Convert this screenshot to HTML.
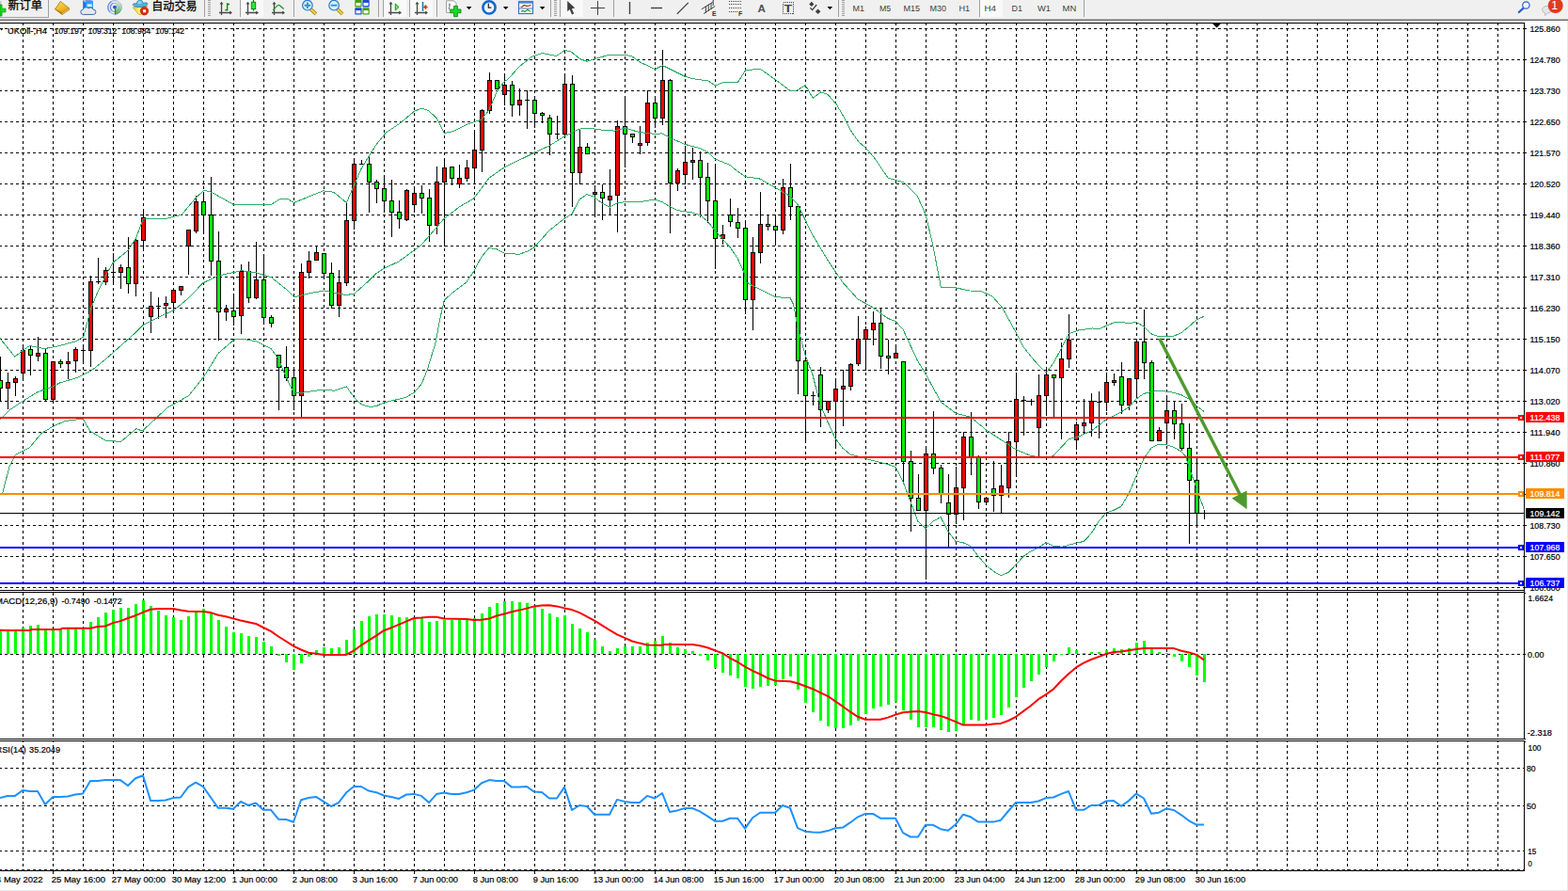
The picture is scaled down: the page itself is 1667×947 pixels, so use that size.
<!DOCTYPE html><html><head><meta charset="utf-8"><title>UKOil H4</title>
<style>html,body{margin:0;padding:0;background:#fff;overflow:hidden}body{width:1667px;height:947px}svg{display:block}text{font-family:"Liberation Sans",sans-serif}</style></head><body>
<svg width="1667" height="947" viewBox="0 0 1667 947">
<rect width="1667" height="947" fill="#fff"/>
<g shape-rendering="crispEdges" stroke="#000" stroke-width="1" fill="none">
<g stroke-dasharray="3 3">
<path d="M24.5 24V627M24.5 630V785"/><path d="M24.5 788V925" stroke-dashoffset="2"/>
<path d="M56.5 24V627M56.5 630V785"/><path d="M56.5 788V925" stroke-dashoffset="2"/>
<path d="M88.5 24V627M88.5 630V785"/><path d="M88.5 788V925" stroke-dashoffset="2"/>
<path d="M120.5 24V627M120.5 630V785"/><path d="M120.5 788V925" stroke-dashoffset="2"/>
<path d="M152.5 24V627M152.5 630V785"/><path d="M152.5 788V925" stroke-dashoffset="2"/>
<path d="M184.5 24V627M184.5 630V785"/><path d="M184.5 788V925" stroke-dashoffset="2"/>
<path d="M216.5 24V627M216.5 630V785"/><path d="M216.5 788V925" stroke-dashoffset="2"/>
<path d="M248.5 24V627M248.5 630V785"/><path d="M248.5 788V925" stroke-dashoffset="2"/>
<path d="M280.5 24V627M280.5 630V785"/><path d="M280.5 788V925" stroke-dashoffset="2"/>
<path d="M312.5 24V627M312.5 630V785"/><path d="M312.5 788V925" stroke-dashoffset="2"/>
<path d="M344.5 24V627M344.5 630V785"/><path d="M344.5 788V925" stroke-dashoffset="2"/>
<path d="M376.5 24V627M376.5 630V785"/><path d="M376.5 788V925" stroke-dashoffset="2"/>
<path d="M408.5 24V627M408.5 630V785"/><path d="M408.5 788V925" stroke-dashoffset="2"/>
<path d="M440.5 24V627M440.5 630V785"/><path d="M440.5 788V925" stroke-dashoffset="2"/>
<path d="M472.5 24V627M472.5 630V785"/><path d="M472.5 788V925" stroke-dashoffset="2"/>
<path d="M504.5 24V627M504.5 630V785"/><path d="M504.5 788V925" stroke-dashoffset="2"/>
<path d="M536.5 24V627M536.5 630V785"/><path d="M536.5 788V925" stroke-dashoffset="2"/>
<path d="M568.5 24V627M568.5 630V785"/><path d="M568.5 788V925" stroke-dashoffset="2"/>
<path d="M600.5 24V627M600.5 630V785"/><path d="M600.5 788V925" stroke-dashoffset="2"/>
<path d="M632.5 24V627M632.5 630V785"/><path d="M632.5 788V925" stroke-dashoffset="2"/>
<path d="M664.5 24V627M664.5 630V785"/><path d="M664.5 788V925" stroke-dashoffset="2"/>
<path d="M696.5 24V627M696.5 630V785"/><path d="M696.5 788V925" stroke-dashoffset="2"/>
<path d="M728.5 24V627M728.5 630V785"/><path d="M728.5 788V925" stroke-dashoffset="2"/>
<path d="M760.5 24V627M760.5 630V785"/><path d="M760.5 788V925" stroke-dashoffset="2"/>
<path d="M792.5 24V627M792.5 630V785"/><path d="M792.5 788V925" stroke-dashoffset="2"/>
<path d="M824.5 24V627M824.5 630V785"/><path d="M824.5 788V925" stroke-dashoffset="2"/>
<path d="M856.5 24V627M856.5 630V785"/><path d="M856.5 788V925" stroke-dashoffset="2"/>
<path d="M888.5 24V627M888.5 630V785"/><path d="M888.5 788V925" stroke-dashoffset="2"/>
<path d="M920.5 24V627M920.5 630V785"/><path d="M920.5 788V925" stroke-dashoffset="2"/>
<path d="M952.5 24V627M952.5 630V785"/><path d="M952.5 788V925" stroke-dashoffset="2"/>
<path d="M984.5 24V627M984.5 630V785"/><path d="M984.5 788V925" stroke-dashoffset="2"/>
<path d="M1016.5 24V627M1016.5 630V785"/><path d="M1016.5 788V925" stroke-dashoffset="2"/>
<path d="M1048.5 24V627M1048.5 630V785"/><path d="M1048.5 788V925" stroke-dashoffset="2"/>
<path d="M1080.5 24V627M1080.5 630V785"/><path d="M1080.5 788V925" stroke-dashoffset="2"/>
<path d="M1112.5 24V627M1112.5 630V785"/><path d="M1112.5 788V925" stroke-dashoffset="2"/>
<path d="M1144.5 24V627M1144.5 630V785"/><path d="M1144.5 788V925" stroke-dashoffset="2"/>
<path d="M1176.5 24V627M1176.5 630V785"/><path d="M1176.5 788V925" stroke-dashoffset="2"/>
<path d="M1208.5 24V627M1208.5 630V785"/><path d="M1208.5 788V925" stroke-dashoffset="2"/>
<path d="M1240.5 24V627M1240.5 630V785"/><path d="M1240.5 788V925" stroke-dashoffset="2"/>
<path d="M1272.5 24V627M1272.5 630V785"/><path d="M1272.5 788V925" stroke-dashoffset="2"/>
<path d="M1304.5 24V627M1304.5 630V785"/><path d="M1304.5 788V925" stroke-dashoffset="2"/>
<path d="M1336.5 24V627M1336.5 630V785"/><path d="M1336.5 788V925" stroke-dashoffset="2"/>
<path d="M1368.5 24V627M1368.5 630V785"/><path d="M1368.5 788V925" stroke-dashoffset="2"/>
<path d="M1400.5 24V627M1400.5 630V785"/><path d="M1400.5 788V925" stroke-dashoffset="2"/>
<path d="M1432.5 24V627M1432.5 630V785"/><path d="M1432.5 788V925" stroke-dashoffset="2"/>
<path d="M1464.5 24V627M1464.5 630V785"/><path d="M1464.5 788V925" stroke-dashoffset="2"/>
<path d="M1496.5 24V627M1496.5 630V785"/><path d="M1496.5 788V925" stroke-dashoffset="2"/>
<path d="M1528.5 24V627M1528.5 630V785"/><path d="M1528.5 788V925" stroke-dashoffset="2"/>
<path d="M1560.5 24V627M1560.5 630V785"/><path d="M1560.5 788V925" stroke-dashoffset="2"/>
<path d="M1592.5 24V627M1592.5 630V785"/><path d="M1592.5 788V925" stroke-dashoffset="2"/>
<path d="M-1 30.5H1620"/>
<path d="M-1 63.5H1620"/>
<path d="M-1 96.5H1620"/>
<path d="M-1 129.5H1620"/>
<path d="M-1 162.5H1620"/>
<path d="M-1 195.5H1620"/>
<path d="M-1 228.5H1620"/>
<path d="M-1 261.5H1620"/>
<path d="M-1 294.5H1620"/>
<path d="M-1 327.5H1620"/>
<path d="M-1 360.5H1620"/>
<path d="M-1 393.5H1620"/>
<path d="M-1 426.5H1620"/>
<path d="M-1 459.5H1620"/>
<path d="M-1 492.5H1620"/>
<path d="M-1 525.5H1620"/>
<path d="M-1 558.5H1620"/>
<path d="M-1 591.5H1620"/>
<path d="M-1 624.5H1620"/>
<path d="M-1 695.5H1620"/>
<path d="M-1 816.5H1620"/>
<path d="M-1 856.5H1620"/>
<path d="M-1 904.5H1620"/>
<path d="M-1 924.5H1620"/>
</g>
<path d="M0 24.5H1621M0 627.5H1621M0 629.5H1621M0 785.5H1621M0 787.5H1621M0 925.5H1621M1620.5 24V786M1620.5 787V926"/>
<path d="M1621 30.5h2M1621 63.5h2M1621 96.5h2M1621 129.5h2M1621 162.5h2M1621 195.5h2M1621 228.5h2M1621 261.5h2M1621 294.5h2M1621 327.5h2M1621 360.5h2M1621 393.5h2M1621 426.5h2M1621 459.5h2M1621 492.5h2M1621 525.5h2M1621 558.5h2M1621 591.5h2M1621 624.5h2"/>
<path d="M1621 695.5h1M1621 785.5h1M1621 788.5h1M1621 630.5h1"/>
<path d="M56.5 926v3M120.5 926v3M184.5 926v3M248.5 926v3M312.5 926v3M376.5 926v3M440.5 926v3M504.5 926v3M568.5 926v3M632.5 926v3M696.5 926v3M760.5 926v3M824.5 926v3M888.5 926v3M952.5 926v3M1016.5 926v3M1080.5 926v3M1144.5 926v3M1208.5 926v3M1272.5 926v3"/>
</g>
<g shape-rendering="crispEdges">
<path d="M0.5 379V427M8.5 396V435M16.5 400V421M24.5 366V405M32.5 368V399M40.5 358V384M48.5 371V426M56.5 384V427M64.5 382V391M72.5 374V403M80.5 369V396M88.5 368V387M96.5 293V390M104.5 274V302M112.5 284V303M120.5 269V302M128.5 281V307M136.5 252V312M144.5 252V315M152.5 222V267M160.5 310V354M168.5 316V339M176.5 315V338M184.5 306V329M192.5 304V314M200.5 244V292M208.5 208V248M216.5 204V247M224.5 188V293M232.5 246V362M240.5 324V341M248.5 312V346M256.5 281V355M264.5 278V322M272.5 257V318M280.5 270V343M288.5 335V348M296.5 377V436M304.5 368V405M312.5 391V436M320.5 280V444M328.5 267V296M336.5 261V277M344.5 269V297M352.5 279V328M360.5 287V337M368.5 214V304M376.5 168V244M384.5 170V175M392.5 166V226M400.5 191V216M408.5 186V226M416.5 191V252M424.5 213V243M432.5 201V235M440.5 198V226M448.5 197V227M456.5 201V257M464.5 177V249M472.5 168V262M480.5 177V197M488.5 175V200M496.5 170V193M504.5 138V196M512.5 116V183M520.5 77V121M528.5 85V95M536.5 78V112M544.5 86V124M552.5 94V123M560.5 96V137M568.5 104V136M576.5 119V131M584.5 122V165M592.5 123V148M600.5 78V146M608.5 80V220M616.5 138V196M624.5 152V164M632.5 197V231M640.5 196V234M648.5 180V229M656.5 128V247M664.5 103V178M672.5 142V152M680.5 134V164M688.5 96V155M696.5 102V136M704.5 53V133M712.5 84V248M720.5 179V203M728.5 155V196M736.5 157V191M744.5 161V231M752.5 173V237M760.5 174V286M768.5 239V260M776.5 211V241M784.5 221V253M792.5 234V334M800.5 252V351M808.5 204V280M816.5 228V245M824.5 228V258M832.5 190V249M840.5 174V234M848.5 219V419M856.5 374V471M864.5 416V431M872.5 390V454M880.5 426V439M888.5 402V477M896.5 393V453M904.5 386V415M912.5 336V389M920.5 347V394M928.5 331V367M936.5 328V392M944.5 361V398M952.5 366V381M960.5 384V512M968.5 479V565M976.5 504V543M984.5 474V616M992.5 437V504M1000.5 494V535M1008.5 504V582M1016.5 496V557M1024.5 459V553M1032.5 438V505M1040.5 484V541M1048.5 528V537M1056.5 490V544M1064.5 494V546M1072.5 459V529M1080.5 397V505M1088.5 421V463M1096.5 424V431M1104.5 398V485M1112.5 392V442M1120.5 398V443M1128.5 364V467M1136.5 334V391M1144.5 448V478M1152.5 424V461M1160.5 418V464M1168.5 416V466M1176.5 396V437M1184.5 397V410M1192.5 385V440M1200.5 402V436M1208.5 360V424M1216.5 329V403M1224.5 383V469M1232.5 454V469M1240.5 420V472M1248.5 427V467M1256.5 429V479M1264.5 450V578M1272.5 487V558M1280.5 542V552" stroke="#000" stroke-width="1" fill="none"/>
<path d="M86 372.5h5M102 299.5h5M118 289.5h5M166 325.5h5M382 174.5h5M558 106.5h5M590 142.5h5M862 420.5h5M1086 425.5h5M1094 426.5h5M1166 427.5h5M1278 545.5h5" stroke="#000" stroke-width="1" fill="none"/>
<g fill="#f00" stroke="#000" stroke-width="1"><rect x="6.5" y="406.5" width="4" height="6"/><rect x="14.5" y="402.5" width="4" height="4"/><rect x="22.5" y="372.5" width="4" height="24"/><rect x="38.5" y="375.5" width="4" height="3"/><rect x="54.5" y="384.5" width="4" height="40"/><rect x="70.5" y="384.5" width="4" height="2"/><rect x="78.5" y="371.5" width="4" height="12"/><rect x="94.5" y="299.5" width="4" height="73"/><rect x="110.5" y="287.5" width="4" height="12"/><rect x="126.5" y="284.5" width="4" height="5"/><rect x="142.5" y="255.5" width="4" height="46"/><rect x="150.5" y="231.5" width="4" height="24"/><rect x="158.5" y="325.5" width="4" height="11"/><rect x="174.5" y="322.5" width="4" height="2"/><rect x="182.5" y="308.5" width="4" height="13"/><rect x="190.5" y="304.5" width="4" height="4"/><rect x="198.5" y="244.5" width="4" height="17"/><rect x="206.5" y="214.5" width="4" height="31"/><rect x="238.5" y="328.5" width="4" height="3"/><rect x="254.5" y="288.5" width="4" height="47"/><rect x="270.5" y="297.5" width="4" height="19"/><rect x="318.5" y="289.5" width="4" height="131"/><rect x="326.5" y="277.5" width="4" height="12"/><rect x="334.5" y="268.5" width="4" height="8"/><rect x="358.5" y="300.5" width="4" height="24"/><rect x="366.5" y="234.5" width="4" height="66"/><rect x="374.5" y="174.5" width="4" height="60"/><rect x="430.5" y="202.5" width="4" height="31"/><rect x="438.5" y="205.5" width="4" height="12"/><rect x="462.5" y="193.5" width="4" height="46"/><rect x="470.5" y="178.5" width="4" height="15"/><rect x="486.5" y="189.5" width="4" height="6"/><rect x="494.5" y="178.5" width="4" height="11"/><rect x="502.5" y="159.5" width="4" height="19"/><rect x="510.5" y="117.5" width="4" height="42"/><rect x="518.5" y="85.5" width="4" height="32"/><rect x="534.5" y="90.5" width="4" height="10"/><rect x="550.5" y="106.5" width="4" height="5"/><rect x="598.5" y="89.5" width="4" height="53"/><rect x="614.5" y="156.5" width="4" height="27"/><rect x="630.5" y="204.5" width="4" height="2"/><rect x="646.5" y="208.5" width="4" height="4"/><rect x="654.5" y="134.5" width="4" height="73"/><rect x="678.5" y="152.5" width="4" height="2"/><rect x="686.5" y="109.5" width="4" height="42"/><rect x="702.5" y="85.5" width="4" height="40"/><rect x="718.5" y="181.5" width="4" height="13"/><rect x="726.5" y="172.5" width="4" height="13"/><rect x="734.5" y="170.5" width="4" height="2"/><rect x="766.5" y="249.5" width="4" height="4"/><rect x="798.5" y="268.5" width="4" height="50"/><rect x="806.5" y="238.5" width="4" height="30"/><rect x="830.5" y="199.5" width="4" height="45"/><rect x="878.5" y="426.5" width="4" height="9"/><rect x="886.5" y="413.5" width="4" height="13"/><rect x="894.5" y="410.5" width="4" height="3"/><rect x="902.5" y="387.5" width="4" height="23"/><rect x="910.5" y="360.5" width="4" height="26"/><rect x="918.5" y="350.5" width="4" height="10"/><rect x="926.5" y="343.5" width="4" height="7"/><rect x="950.5" y="375.5" width="4" height="5"/><rect x="982.5" y="482.5" width="4" height="60"/><rect x="1014.5" y="518.5" width="4" height="28"/><rect x="1022.5" y="464.5" width="4" height="54"/><rect x="1046.5" y="529.5" width="4" height="4"/><rect x="1062.5" y="516.5" width="4" height="10"/><rect x="1070.5" y="469.5" width="4" height="49"/><rect x="1078.5" y="424.5" width="4" height="45"/><rect x="1102.5" y="420.5" width="4" height="34"/><rect x="1110.5" y="398.5" width="4" height="22"/><rect x="1126.5" y="381.5" width="4" height="20"/><rect x="1134.5" y="361.5" width="4" height="20"/><rect x="1142.5" y="451.5" width="4" height="16"/><rect x="1150.5" y="449.5" width="4" height="3"/><rect x="1158.5" y="426.5" width="4" height="23"/><rect x="1174.5" y="406.5" width="4" height="21"/><rect x="1182.5" y="404.5" width="4" height="2"/><rect x="1198.5" y="402.5" width="4" height="28"/><rect x="1206.5" y="363.5" width="4" height="39"/><rect x="1230.5" y="457.5" width="4" height="11"/><rect x="1238.5" y="436.5" width="4" height="13"/></g>
<g fill="#0f0" stroke="#000" stroke-width="1"><rect x="-1.5" y="404.5" width="4" height="8"/><rect x="30.5" y="371.5" width="4" height="6"/><rect x="46.5" y="375.5" width="4" height="49"/><rect x="62.5" y="384.5" width="4" height="2"/><rect x="134.5" y="284.5" width="4" height="17"/><rect x="214.5" y="214.5" width="4" height="14"/><rect x="222.5" y="228.5" width="4" height="49"/><rect x="230.5" y="277.5" width="4" height="54"/><rect x="246.5" y="330.5" width="4" height="6"/><rect x="262.5" y="288.5" width="4" height="28"/><rect x="278.5" y="297.5" width="4" height="40"/><rect x="286.5" y="337.5" width="4" height="6"/><rect x="294.5" y="377.5" width="4" height="13"/><rect x="302.5" y="390.5" width="4" height="11"/><rect x="310.5" y="401.5" width="4" height="19"/><rect x="342.5" y="269.5" width="4" height="21"/><rect x="350.5" y="290.5" width="4" height="34"/><rect x="390.5" y="174.5" width="4" height="19"/><rect x="398.5" y="193.5" width="4" height="7"/><rect x="406.5" y="200.5" width="4" height="13"/><rect x="414.5" y="213.5" width="4" height="12"/><rect x="422.5" y="225.5" width="4" height="7"/><rect x="446.5" y="205.5" width="4" height="5"/><rect x="454.5" y="210.5" width="4" height="29"/><rect x="478.5" y="177.5" width="4" height="12"/><rect x="526.5" y="85.5" width="4" height="9"/><rect x="542.5" y="90.5" width="4" height="21"/><rect x="566.5" y="106.5" width="4" height="14"/><rect x="574.5" y="120.5" width="4" height="2"/><rect x="582.5" y="125.5" width="4" height="17"/><rect x="606.5" y="89.5" width="4" height="94"/><rect x="622.5" y="156.5" width="4" height="7"/><rect x="638.5" y="204.5" width="4" height="6"/><rect x="662.5" y="134.5" width="4" height="8"/><rect x="670.5" y="142.5" width="4" height="3"/><rect x="694.5" y="109.5" width="4" height="16"/><rect x="710.5" y="85.5" width="4" height="109"/><rect x="742.5" y="170.5" width="4" height="18"/><rect x="750.5" y="188.5" width="4" height="25"/><rect x="758.5" y="213.5" width="4" height="40"/><rect x="774.5" y="228.5" width="4" height="7"/><rect x="782.5" y="236.5" width="4" height="6"/><rect x="790.5" y="242.5" width="4" height="76"/><rect x="814.5" y="238.5" width="4" height="2"/><rect x="822.5" y="240.5" width="4" height="4"/><rect x="838.5" y="199.5" width="4" height="20"/><rect x="846.5" y="219.5" width="4" height="164"/><rect x="854.5" y="383.5" width="4" height="37"/><rect x="870.5" y="398.5" width="4" height="37"/><rect x="934.5" y="343.5" width="4" height="35"/><rect x="942.5" y="378.5" width="4" height="2"/><rect x="958.5" y="384.5" width="4" height="106"/><rect x="966.5" y="490.5" width="4" height="39"/><rect x="974.5" y="529.5" width="4" height="13"/><rect x="990.5" y="482.5" width="4" height="15"/><rect x="998.5" y="497.5" width="4" height="28"/><rect x="1006.5" y="534.5" width="4" height="12"/><rect x="1030.5" y="464.5" width="4" height="22"/><rect x="1038.5" y="486.5" width="4" height="47"/><rect x="1054.5" y="519.5" width="4" height="7"/><rect x="1118.5" y="398.5" width="4" height="3"/><rect x="1190.5" y="400.5" width="4" height="30"/><rect x="1214.5" y="363.5" width="4" height="22"/><rect x="1222.5" y="385.5" width="4" height="83"/><rect x="1246.5" y="436.5" width="4" height="14"/><rect x="1254.5" y="450.5" width="4" height="26"/><rect x="1262.5" y="476.5" width="4" height="34"/><rect x="1270.5" y="510.5" width="4" height="35"/></g>
</g>
<path d="M0 359.6L15.8 379.2L24.4 372.2L31.7 367.5L47.5 370.6L63.4 367.5L80.8 362.7L88.7 358L96.6 327.9L104.5 308.9L112.4 293L120.4 278.8L136.2 266.1L144.4 253.4L152.4 232.2L177.4 232.2L193.2 228.1L208.4 210L217 202.1L224.9 204.3L248.7 217.6L288.2 217.6L297.8 211.3L305.7 211.3L312.6 215.4L343.7 202.8L354.8 204.3L368.4 215.4L384.2 179L396 160L400 153.8L410.1 141.1L425.3 131L440.5 118.3L448.1 115L455.8 117.8L464.6 125.9L472.2 141.6L481.1 139.8L496.3 132.2L512 127.2L519.9 117L528 98L536.1 86.6L540 84.2L551.3 71.6L565.2 60.2L576.5 56.5L591.6 59.5L600.5 53.4L606.8 54.7L616.8 62.8L624.4 65.3L633.2 62.2L648.3 58.2L664.7 58.2L672.3 60.2L681.1 66.5L688.7 69.8L696.2 73.6L704.5 69.6L713.8 74.1L727.7 81.1L736.5 83.7L752.9 85.9L760.5 91L768 87.9L784.4 87.4L792.7 74.6L808.3 73.3L824.7 84.9L840.6 96.8L847.4 96L856.2 90.5L864.3 104.3L872.6 98L880.1 100.5L889 110.6L896.5 123.2L904.1 138.3L912.9 150.9L920.4 157.2L929.3 167.3L944.1 189.2L960.4 193.7L975.2 208.4L984 227.7L991.4 258.7L1000.3 305.1L1016.5 306L1031.3 309L1043.2 309.6L1055 314.9L1065.3 326.7L1080.1 353.3L1087.5 368.1L1099.3 382.9L1112.1 396.2L1120 385.8L1128 371.1L1136 354.8L1146.6 351L1161.4 348.9L1167.9 349.8L1183.9 343L1191.4 342.2L1200 343.7L1208 342.2L1216 347.1L1224 354.8L1232 357.9L1240 357.9L1248 357.1L1256 353.6L1264 347.1L1272 340L1280 336.3" fill="none" stroke="#2eab63" stroke-width="1" shape-rendering="crispEdges"/>
<path d="M0 446L10 435.9L23.9 426.6L40.3 416.5L56.7 410.7L63.4 407L82.4 401.4L96.6 394.4L112.4 381.7L128.3 367.5L144.4 353.2L152.4 345.3L167.9 337.4L185.3 329.5L200.5 316.8L215.4 301L232.2 293L256.6 287.7L272.4 289.9L288.2 294.6L304.1 307.3L312.6 315.8L328.2 312L344.3 308.9L360.5 312L368.4 313.6L376.9 312L392.8 297.8L400 290.5L408.6 285.1L424.1 277.9L448.1 260.2L472.2 232.3L488.7 219.7L503.9 210.8L519.9 189.2L536.1 177.8L552 170.2L567.3 162.6L584 155L600 144.9L615.4 137.3L624 136L640 138.1L653.4 139.1L664.1 136L680 140.6L696 142.4L704.1 141.9L712 146.2L727.9 153.3L743.9 157.6L752 161.4L760.1 169L776.1 175.3L780 178.9L792.1 187.7L808.1 190.1L824.4 199.6L840 208.4L848 217.3L864 249.8L879.9 276.4L895.9 300.1L911.9 317.8L927.8 326.7L944.1 338.5L952.1 341.5L960.1 350.4L975.2 382.9L984.6 398.5L1000.5 427.5L1016.3 439.4L1032.2 443.4L1048 456.6L1063.8 467.1L1079.9 477.7L1095.5 484.3L1111.4 486.9L1120.1 484.3L1136.4 466.6L1144.4 465L1160.2 457.9L1176 446L1192.1 438L1200 432.6L1208 424L1216 418.4L1224 416.4L1232 415.2L1240 416.1L1248 417.3L1256 419.8L1264 424.1L1272 431.2L1280 437.5" fill="none" stroke="#2eab63" stroke-width="1" shape-rendering="crispEdges"/>
<path d="M2 526L3.8 520L10 495.9L16.4 483.3L31.5 475.7L44 460.6L56.7 453L69.3 447.5L88.2 445L95.7 458.1L112.1 468.2L128.5 469.4L144.9 455.6L151.2 458.1L166.3 444.2L177.6 433.4L200.3 420.8L216.7 400.5L232.2 375.4L248.7 361.1L256.6 360.2L272.4 362.7L288.2 370.6L296.2 381.7L304.1 400.7L312.6 418L321.2 417.3L343.9 414L355.3 415.3L368.4 411L376.9 422.9L384.2 429.8L393 432.4L400 431.7L407.6 428.1L431.5 422.4L440.3 417.3L447.9 408.5L454.2 393.4L463 364.4L468 337.9L472.3 319.1L480.6 311.5L495.7 300.2L503.9 288.1L512 272.9L519.9 263.5L528 264.8L536.1 269.1L552 270.3L562.2 266.5L568 262.7L584 245L600 232.3L608.1 227.3L615.9 212.1L624 206.5L631.9 209.5L640 215.9L648.1 220.2L656 215.9L664.1 214.6L680 214.6L696 212.1L704.1 214.6L712 219.7L720.1 223.5L736 226L743.9 228.5L752 234.9L760.1 245L768 253.9L776.1 262.7L783.9 274.1L790.3 288.1L794.1 300L798 302.7L820 313.5L824.4 315.8L840 316.4L843.6 323.8L848 347.4L856 377L864 398.5L872 430.2L880.1 448.6L888 465.8L896 476.4L904.1 483L912 485.1L927.9 489.6L944 493.5L951.9 496.2L960.1 512L968 533.1L975.9 554.2L984.1 561.6L992 554.2L1000 549.5L1007.9 564.8L1016 575.4L1024 576.7L1031.9 580.6L1040.1 591.2L1048 600.4L1055.9 607L1064.1 611.8L1072 608.4L1079.9 600.4L1088.1 591.2L1096 585.9L1104 582L1111.9 576.7L1120.1 580.6L1129.8 581.2L1135.9 579.3L1152 575.4L1159.9 567.4L1168.1 554.2L1176 545L1184 542.3L1192 538.2L1200 525L1208 506L1216 487.5L1224 476L1232 472.2L1240 472.8L1248 475.4L1256 480L1260.5 485L1264 495.8L1272 519L1280 541" fill="none" stroke="#2eab63" stroke-width="1" shape-rendering="crispEdges"/>
<g shape-rendering="crispEdges">
<rect x="0" y="443" width="1620" height="2" fill="#f00"/>
<rect x="0" y="485" width="1620" height="2" fill="#f00"/>
<rect x="0" y="524" width="1620" height="2" fill="#ff8c00"/>
<rect x="0" y="545" width="1620" height="1" fill="#000"/>
<rect x="0" y="581" width="1620" height="2" fill="#00f"/>
<rect x="0" y="619" width="1620" height="2" fill="#00f"/>
</g>
<path d="M1232.8 359.9L1318.5 526" stroke="#4e9a2e" stroke-width="3.4" fill="none"/>
<path d="M1309.6 529.5L1325.6 521.6L1325.6 541.2Z" fill="#4e9a2e"/>
<path d="M1289 25h9l-4.5 4.5z" fill="#000"/>
<g shape-rendering="crispEdges" fill="#0f0">
<rect x="-1" y="670" width="3" height="25"/>
<rect x="7" y="670" width="3" height="25"/>
<rect x="15" y="670" width="3" height="25"/>
<rect x="23" y="667" width="3" height="28"/>
<rect x="31" y="665" width="3" height="30"/>
<rect x="39" y="664" width="3" height="31"/>
<rect x="47" y="669" width="3" height="26"/>
<rect x="55" y="669" width="3" height="26"/>
<rect x="63" y="669" width="3" height="26"/>
<rect x="71" y="668" width="3" height="27"/>
<rect x="79" y="668" width="3" height="27"/>
<rect x="87" y="668" width="3" height="27"/>
<rect x="95" y="661" width="3" height="34"/>
<rect x="103" y="656" width="3" height="39"/>
<rect x="111" y="651" width="3" height="44"/>
<rect x="119" y="648" width="3" height="47"/>
<rect x="127" y="646" width="3" height="49"/>
<rect x="135" y="646" width="3" height="49"/>
<rect x="143" y="642" width="3" height="53"/>
<rect x="151" y="638" width="3" height="57"/>
<rect x="159" y="644" width="3" height="51"/>
<rect x="167" y="649" width="3" height="46"/>
<rect x="175" y="654" width="3" height="41"/>
<rect x="183" y="656" width="3" height="39"/>
<rect x="191" y="659" width="3" height="36"/>
<rect x="199" y="655" width="3" height="40"/>
<rect x="207" y="650" width="3" height="45"/>
<rect x="215" y="647" width="3" height="48"/>
<rect x="223" y="651" width="3" height="44"/>
<rect x="231" y="659" width="3" height="36"/>
<rect x="239" y="666" width="3" height="29"/>
<rect x="247" y="672" width="3" height="23"/>
<rect x="255" y="673" width="3" height="22"/>
<rect x="263" y="676" width="3" height="19"/>
<rect x="271" y="677" width="3" height="18"/>
<rect x="279" y="682" width="3" height="13"/>
<rect x="287" y="687" width="3" height="8"/>
<rect x="295" y="695" width="3" height="2"/>
<rect x="303" y="695" width="3" height="9"/>
<rect x="311" y="695" width="3" height="17"/>
<rect x="319" y="695" width="3" height="10"/>
<rect x="327" y="695" width="3" height="3"/>
<rect x="335" y="691" width="3" height="4"/>
<rect x="343" y="688" width="3" height="7"/>
<rect x="351" y="689" width="3" height="6"/>
<rect x="359" y="688" width="3" height="7"/>
<rect x="367" y="680" width="3" height="15"/>
<rect x="375" y="669" width="3" height="26"/>
<rect x="383" y="660" width="3" height="35"/>
<rect x="391" y="655" width="3" height="40"/>
<rect x="399" y="653" width="3" height="42"/>
<rect x="407" y="653" width="3" height="42"/>
<rect x="415" y="654" width="3" height="41"/>
<rect x="423" y="656" width="3" height="39"/>
<rect x="431" y="656" width="3" height="39"/>
<rect x="439" y="657" width="3" height="38"/>
<rect x="447" y="657" width="3" height="38"/>
<rect x="455" y="661" width="3" height="34"/>
<rect x="463" y="660" width="3" height="35"/>
<rect x="471" y="659" width="3" height="36"/>
<rect x="479" y="659" width="3" height="36"/>
<rect x="487" y="659" width="3" height="36"/>
<rect x="495" y="659" width="3" height="36"/>
<rect x="503" y="657" width="3" height="38"/>
<rect x="511" y="652" width="3" height="43"/>
<rect x="519" y="645" width="3" height="50"/>
<rect x="527" y="641" width="3" height="54"/>
<rect x="535" y="639" width="3" height="56"/>
<rect x="543" y="639" width="3" height="56"/>
<rect x="551" y="640" width="3" height="55"/>
<rect x="559" y="641" width="3" height="54"/>
<rect x="567" y="644" width="3" height="51"/>
<rect x="575" y="647" width="3" height="48"/>
<rect x="583" y="652" width="3" height="43"/>
<rect x="591" y="656" width="3" height="39"/>
<rect x="599" y="654" width="3" height="41"/>
<rect x="607" y="663" width="3" height="32"/>
<rect x="615" y="668" width="3" height="27"/>
<rect x="623" y="672" width="3" height="23"/>
<rect x="631" y="680" width="3" height="15"/>
<rect x="639" y="687" width="3" height="8"/>
<rect x="647" y="692" width="3" height="3"/>
<rect x="655" y="689" width="3" height="6"/>
<rect x="663" y="687" width="3" height="8"/>
<rect x="671" y="687" width="3" height="8"/>
<rect x="679" y="687" width="3" height="8"/>
<rect x="687" y="683" width="3" height="12"/>
<rect x="695" y="681" width="3" height="14"/>
<rect x="703" y="676" width="3" height="19"/>
<rect x="711" y="683" width="3" height="12"/>
<rect x="719" y="688" width="3" height="7"/>
<rect x="727" y="690" width="3" height="5"/>
<rect x="735" y="692" width="3" height="3"/>
<rect x="743" y="695" width="3" height="2"/>
<rect x="751" y="695" width="3" height="7"/>
<rect x="759" y="695" width="3" height="15"/>
<rect x="767" y="695" width="3" height="20"/>
<rect x="775" y="695" width="3" height="23"/>
<rect x="783" y="695" width="3" height="26"/>
<rect x="791" y="695" width="3" height="35"/>
<rect x="799" y="695" width="3" height="37"/>
<rect x="807" y="695" width="3" height="35"/>
<rect x="815" y="695" width="3" height="34"/>
<rect x="823" y="695" width="3" height="33"/>
<rect x="831" y="695" width="3" height="27"/>
<rect x="839" y="695" width="3" height="24"/>
<rect x="847" y="695" width="3" height="38"/>
<rect x="855" y="695" width="3" height="52"/>
<rect x="863" y="695" width="3" height="62"/>
<rect x="871" y="695" width="3" height="71"/>
<rect x="879" y="695" width="3" height="77"/>
<rect x="887" y="695" width="3" height="79"/>
<rect x="895" y="695" width="3" height="79"/>
<rect x="903" y="695" width="3" height="76"/>
<rect x="911" y="695" width="3" height="71"/>
<rect x="919" y="695" width="3" height="64"/>
<rect x="927" y="695" width="3" height="58"/>
<rect x="935" y="695" width="3" height="56"/>
<rect x="943" y="695" width="3" height="54"/>
<rect x="951" y="695" width="3" height="51"/>
<rect x="959" y="695" width="3" height="60"/>
<rect x="967" y="695" width="3" height="70"/>
<rect x="975" y="695" width="3" height="78"/>
<rect x="983" y="695" width="3" height="78"/>
<rect x="991" y="695" width="3" height="78"/>
<rect x="999" y="695" width="3" height="81"/>
<rect x="1007" y="695" width="3" height="83"/>
<rect x="1015" y="695" width="3" height="82"/>
<rect x="1023" y="695" width="3" height="75"/>
<rect x="1031" y="695" width="3" height="70"/>
<rect x="1039" y="695" width="3" height="71"/>
<rect x="1047" y="695" width="3" height="70"/>
<rect x="1055" y="695" width="3" height="68"/>
<rect x="1063" y="695" width="3" height="65"/>
<rect x="1071" y="695" width="3" height="57"/>
<rect x="1079" y="695" width="3" height="46"/>
<rect x="1087" y="695" width="3" height="36"/>
<rect x="1095" y="695" width="3" height="29"/>
<rect x="1103" y="695" width="3" height="22"/>
<rect x="1111" y="695" width="3" height="14"/>
<rect x="1119" y="695" width="3" height="8"/>
<rect x="1127" y="695" width="3" height="1"/>
<rect x="1135" y="688" width="3" height="7"/>
<rect x="1143" y="691" width="3" height="4"/>
<rect x="1151" y="694" width="3" height="1"/>
<rect x="1159" y="693" width="3" height="2"/>
<rect x="1167" y="693" width="3" height="2"/>
<rect x="1175" y="691" width="3" height="4"/>
<rect x="1183" y="689" width="3" height="6"/>
<rect x="1191" y="690" width="3" height="5"/>
<rect x="1199" y="689" width="3" height="6"/>
<rect x="1207" y="683" width="3" height="12"/>
<rect x="1215" y="681" width="3" height="14"/>
<rect x="1223" y="689" width="3" height="6"/>
<rect x="1231" y="693" width="3" height="2"/>
<rect x="1239" y="694" width="3" height="1"/>
<rect x="1247" y="695" width="3" height="3"/>
<rect x="1255" y="695" width="3" height="8"/>
<rect x="1263" y="695" width="3" height="14"/>
<rect x="1271" y="695" width="3" height="23"/>
<rect x="1279" y="695" width="3" height="30"/>
</g>
<path d="M0 669.7L8 670L32 670L33.8 668.9L64 668.9L66.7 667.7L96 667.7L104 666L112 665.5L120 662.1L128 660.1L136 657L144 654.2L152 650.8L160 647.7L168 646.9L184 646.9L192 648.6L200 649.8L216 649.9L224 651.1L232 653.7L240 655.3L248 657.4L256 659.6L264 661.3L272 662.9L280 667L288 670.9L296 676.5L304 681.5L312 686.6L320 690.5L328 693.7L336 694.7L344 695.9L368 695.9L376 691.7L384 685.8L392 680.7L400 675.6L408 670.2L416 667.2L424 663.8L432 660.4L440 657L448 656.5L456 655.8L464 655.8L472 657.5L496 657.9L504 659.1L512 658.7L520 657.5L528 654.5L536 652.5L544 650.3L552 648.6L560 646.6L568 644.4L576 643.5L584 643.2L592 644.4L600 646.4L608 648.1L616 651.1L624 655.3L632 659.6L640 664.6L648 669.7L656 674.4L664 677.8L672 681.5L680 683.6L688 685.4L704 685.8L707 684.9L736 684.9L744 686.3L752 688.3L760 691.2L768 694.2L776 699.3L784 703.5L792 708.6L800 712.8L808 716.5L816 720.7L824 723.4L840 724.2L848 726.3L856 729.2L864 732.2L872 736.1L880 739.8L888 745.4L896 750.8L904 756.7L912 761.8L920 764.7L936 764.7L944 762.6L952 759.6L960 757.2L968 756.4L976 755.9L984 757L992 759.2L1000 760.9L1008 763.8L1016 767.2L1024 770.6L1048 770.6L1056 769.4L1064 768.9L1072 766L1080 761.8L1088 755.9L1096 750L1104 743.2L1112 738.1L1120 732.4L1128 723.8L1136 716.2L1144 709.4L1152 704.7L1160 701L1168 698.1L1176 695L1184 693L1192 692.5L1200 691.3L1208 690L1216 689.1L1248 689.1L1256 691.7L1264 693.4L1272 695.9L1280 701.3" fill="none" stroke="#f00" stroke-width="2" stroke-linejoin="round"/>
<path d="M0 847.9L8 846.1L16 845.9L24 840L32 841L40 841L48 855L56 847.1L64 846.9L72 846.5L80 844.5L88 843.6L96 830.1L104 830.1L112 829.1L120 829.1L128 829.1L136 835L144 827.3L152 824.3L160 850.9L168 850.9L176 850.5L184 848.1L192 847.5L200 836.6L208 831.7L216 836.2L224 847.5L232 858.8L240 858.8L248 859.8L256 851.9L264 856L272 853.5L280 860.8L288 860.8L296 870.7L304 870.9L312 873.8L320 850.2L328 848L336 846.9L344 851.9L352 857L360 853.1L368 842.6L376 836L384 836L392 840.6L400 842.2L408 845.5L416 847.1L424 848.9L432 844.5L440 843.9L448 845.9L456 853.1L464 844.1L472 842.6L480 843.9L488 843.9L496 842.2L504 839.6L512 832.3L520 829.1L528 830.1L536 830.1L544 836.6L552 836.6L560 836L568 841.6L576 842L584 848.5L592 848.5L600 836.6L608 861L616 856L624 857L632 865.7L640 865.7L648 865.7L656 849.9L664 851.9L672 852.9L680 852.9L688 845.9L696 848.5L704 843L712 863L720 861.4L728 859L736 859L744 862.4L752 867.3L760 872.7L768 872.7L776 869.7L784 869.7L792 880.6L800 869.3L808 863.7L816 863.7L824 863.7L832 856L840 858.8L848 880.2L856 883.7L864 884.5L872 884.7L880 883.1L888 880.2L896 879.6L904 874.2L912 868.3L920 864.9L928 864.9L936 869.7L944 869.7L952 869.7L960 885.1L968 889.5L976 889.5L984 876.8L992 876.8L1000 881.2L1008 882.7L1016 876.2L1024 865.7L1032 868.3L1040 873.6L1048 873.6L1056 873.6L1064 871.7L1072 862L1080 852.9L1088 852.9L1096 852.9L1104 851.5L1112 848.1L1120 847.5L1128 843.9L1136 841L1144 860.8L1152 860.8L1160 856L1168 855.8L1176 851.5L1184 851.1L1192 856.8L1200 851.1L1208 843.6L1216 848.5L1224 864.7L1232 863.7L1240 859.4L1248 861L1256 866.3L1264 872.3L1272 876.6L1280 876.6" fill="none" stroke="#1e90ff" stroke-width="2" stroke-linejoin="round"/>
<text x="1626.4" y="33.7" font-size="9.9" fill="#000" stroke="#000" stroke-width=".22" textLength="32.2" lengthAdjust="spacingAndGlyphs">125.860</text>
<text x="1626.4" y="66.7" font-size="9.9" fill="#000" stroke="#000" stroke-width=".22" textLength="32.2" lengthAdjust="spacingAndGlyphs">124.780</text>
<text x="1626.4" y="99.7" font-size="9.9" fill="#000" stroke="#000" stroke-width=".22" textLength="32.2" lengthAdjust="spacingAndGlyphs">123.730</text>
<text x="1626.4" y="132.7" font-size="9.9" fill="#000" stroke="#000" stroke-width=".22" textLength="32.2" lengthAdjust="spacingAndGlyphs">122.650</text>
<text x="1626.4" y="165.7" font-size="9.9" fill="#000" stroke="#000" stroke-width=".22" textLength="32.2" lengthAdjust="spacingAndGlyphs">121.570</text>
<text x="1626.4" y="198.7" font-size="9.9" fill="#000" stroke="#000" stroke-width=".22" textLength="32.2" lengthAdjust="spacingAndGlyphs">120.520</text>
<text x="1626.4" y="231.7" font-size="9.9" fill="#000" stroke="#000" stroke-width=".22" textLength="32.2" lengthAdjust="spacingAndGlyphs">119.440</text>
<text x="1626.4" y="264.7" font-size="9.9" fill="#000" stroke="#000" stroke-width=".22" textLength="32.2" lengthAdjust="spacingAndGlyphs">118.360</text>
<text x="1626.4" y="297.7" font-size="9.9" fill="#000" stroke="#000" stroke-width=".22" textLength="32.2" lengthAdjust="spacingAndGlyphs">117.310</text>
<text x="1626.4" y="330.7" font-size="9.9" fill="#000" stroke="#000" stroke-width=".22" textLength="32.2" lengthAdjust="spacingAndGlyphs">116.230</text>
<text x="1626.4" y="363.7" font-size="9.9" fill="#000" stroke="#000" stroke-width=".22" textLength="32.2" lengthAdjust="spacingAndGlyphs">115.150</text>
<text x="1626.4" y="396.7" font-size="9.9" fill="#000" stroke="#000" stroke-width=".22" textLength="32.2" lengthAdjust="spacingAndGlyphs">114.070</text>
<text x="1626.4" y="429.7" font-size="9.9" fill="#000" stroke="#000" stroke-width=".22" textLength="32.2" lengthAdjust="spacingAndGlyphs">113.020</text>
<text x="1626.4" y="462.7" font-size="9.9" fill="#000" stroke="#000" stroke-width=".22" textLength="32.2" lengthAdjust="spacingAndGlyphs">111.940</text>
<text x="1626.4" y="495.7" font-size="9.9" fill="#000" stroke="#000" stroke-width=".22" textLength="32.2" lengthAdjust="spacingAndGlyphs">110.860</text>
<text x="1626.4" y="561.7" font-size="9.9" fill="#000" stroke="#000" stroke-width=".22" textLength="32.2" lengthAdjust="spacingAndGlyphs">108.730</text>
<text x="1626.4" y="594.7" font-size="9.9" fill="#000" stroke="#000" stroke-width=".22" textLength="32.2" lengthAdjust="spacingAndGlyphs">107.650</text>
<text x="1626.4" y="627.7" font-size="9.9" fill="#000" stroke="#000" stroke-width=".22" textLength="32.2" lengthAdjust="spacingAndGlyphs">106.600</text>
<g shape-rendering="crispEdges">
<rect x="1622" y="438" width="41" height="11" fill="#f00"/>
<rect x="1614" y="441" width="6" height="6" fill="#f00"/><rect x="1616" y="443" width="2" height="2" fill="#fff"/>
<rect x="1622" y="480" width="41" height="11" fill="#f00"/>
<rect x="1614" y="483" width="6" height="6" fill="#f00"/><rect x="1616" y="485" width="2" height="2" fill="#fff"/>
<rect x="1622" y="519" width="41" height="11" fill="#ff8c00"/>
<rect x="1614" y="522" width="6" height="6" fill="#ff8c00"/><rect x="1616" y="524" width="2" height="2" fill="#fff"/>
<rect x="1622" y="540" width="41" height="11" fill="#000"/>
<rect x="1622" y="576" width="41" height="11" fill="#00f"/>
<rect x="1614" y="579" width="6" height="6" fill="#00f"/><rect x="1616" y="581" width="2" height="2" fill="#fff"/>
<rect x="1622" y="614" width="41" height="11" fill="#00f"/>
<rect x="1614" y="617" width="6" height="6" fill="#00f"/><rect x="1616" y="619" width="2" height="2" fill="#fff"/>
</g>
<text x="1626.6" y="447.4" font-size="9.9" fill="#fff" stroke="#fff" stroke-width=".22" textLength="31.8" lengthAdjust="spacingAndGlyphs">112.438</text>
<text x="1626.6" y="489.4" font-size="9.9" fill="#fff" stroke="#fff" stroke-width=".22" textLength="31.8" lengthAdjust="spacingAndGlyphs">111.077</text>
<text x="1626.6" y="528.4" font-size="9.9" fill="#fff" stroke="#fff" stroke-width=".22" textLength="31.8" lengthAdjust="spacingAndGlyphs">109.814</text>
<text x="1626.6" y="549.4" font-size="9.9" fill="#fff" stroke="#fff" stroke-width=".22" textLength="31.8" lengthAdjust="spacingAndGlyphs">109.142</text>
<text x="1626.6" y="585.4" font-size="9.9" fill="#fff" stroke="#fff" stroke-width=".22" textLength="31.8" lengthAdjust="spacingAndGlyphs">107.968</text>
<text x="1626.6" y="623.4" font-size="9.9" fill="#fff" stroke="#fff" stroke-width=".22" textLength="31.8" lengthAdjust="spacingAndGlyphs">106.737</text>
<text x="1624.5" y="639.4" font-size="9.9" fill="#000" stroke="#000" stroke-width=".22" textLength="26.5" lengthAdjust="spacingAndGlyphs">1.6624</text>
<text x="1624" y="698.6" font-size="9.9" fill="#000" stroke="#000" stroke-width=".22" textLength="17.5" lengthAdjust="spacingAndGlyphs">0.00</text>
<text x="1623.7" y="781.6" font-size="9.9" fill="#000" stroke="#000" stroke-width=".22" textLength="26.3" lengthAdjust="spacingAndGlyphs">-2.318</text>
<text x="1624.5" y="797.6" font-size="9.9" fill="#000" stroke="#000" stroke-width=".22" textLength="14" lengthAdjust="spacingAndGlyphs">100</text>
<text x="1623" y="819.6" font-size="9.9" fill="#000" stroke="#000" stroke-width=".22" textLength="9.6" lengthAdjust="spacingAndGlyphs">80</text>
<text x="1623.1" y="859.8" font-size="9.9" fill="#000" stroke="#000" stroke-width=".22" textLength="10" lengthAdjust="spacingAndGlyphs">50</text>
<text x="1624.3" y="907.6" font-size="9.9" fill="#000" stroke="#000" stroke-width=".22" textLength="9" lengthAdjust="spacingAndGlyphs">15</text>
<text x="1624.5" y="921.3" font-size="9.9" fill="#000" stroke="#000" stroke-width=".22" textLength="4.3" lengthAdjust="spacingAndGlyphs">0</text>
<text x="-9.2" y="937.6" font-size="9.9" fill="#000" stroke="#000" stroke-width=".22" textLength="54.6" lengthAdjust="spacingAndGlyphs">24 May 2022</text>
<text x="54.8" y="937.6" font-size="9.9" fill="#000" stroke="#000" stroke-width=".22" textLength="57.3" lengthAdjust="spacingAndGlyphs">25 May 16:00</text>
<text x="118.8" y="937.6" font-size="9.9" fill="#000" stroke="#000" stroke-width=".22" textLength="57.3" lengthAdjust="spacingAndGlyphs">27 May 00:00</text>
<text x="182.8" y="937.6" font-size="9.9" fill="#000" stroke="#000" stroke-width=".22" textLength="57.3" lengthAdjust="spacingAndGlyphs">30 May 12:00</text>
<text x="246.8" y="937.6" font-size="9.9" fill="#000" stroke="#000" stroke-width=".22" textLength="48.1" lengthAdjust="spacingAndGlyphs">1 Jun 00:00</text>
<text x="310.8" y="937.6" font-size="9.9" fill="#000" stroke="#000" stroke-width=".22" textLength="48.1" lengthAdjust="spacingAndGlyphs">2 Jun 08:00</text>
<text x="374.8" y="937.6" font-size="9.9" fill="#000" stroke="#000" stroke-width=".22" textLength="48.1" lengthAdjust="spacingAndGlyphs">3 Jun 16:00</text>
<text x="438.8" y="937.6" font-size="9.9" fill="#000" stroke="#000" stroke-width=".22" textLength="48.1" lengthAdjust="spacingAndGlyphs">7 Jun 00:00</text>
<text x="502.8" y="937.6" font-size="9.9" fill="#000" stroke="#000" stroke-width=".22" textLength="48.1" lengthAdjust="spacingAndGlyphs">8 Jun 08:00</text>
<text x="566.8" y="937.6" font-size="9.9" fill="#000" stroke="#000" stroke-width=".22" textLength="48.1" lengthAdjust="spacingAndGlyphs">9 Jun 16:00</text>
<text x="630.8" y="937.6" font-size="9.9" fill="#000" stroke="#000" stroke-width=".22" textLength="53.2" lengthAdjust="spacingAndGlyphs">13 Jun 00:00</text>
<text x="694.8" y="937.6" font-size="9.9" fill="#000" stroke="#000" stroke-width=".22" textLength="53.2" lengthAdjust="spacingAndGlyphs">14 Jun 08:00</text>
<text x="758.8" y="937.6" font-size="9.9" fill="#000" stroke="#000" stroke-width=".22" textLength="53.2" lengthAdjust="spacingAndGlyphs">15 Jun 16:00</text>
<text x="822.8" y="937.6" font-size="9.9" fill="#000" stroke="#000" stroke-width=".22" textLength="53.2" lengthAdjust="spacingAndGlyphs">17 Jun 00:00</text>
<text x="886.8" y="937.6" font-size="9.9" fill="#000" stroke="#000" stroke-width=".22" textLength="53.2" lengthAdjust="spacingAndGlyphs">20 Jun 08:00</text>
<text x="950.8" y="937.6" font-size="9.9" fill="#000" stroke="#000" stroke-width=".22" textLength="53.2" lengthAdjust="spacingAndGlyphs">21 Jun 20:00</text>
<text x="1014.8" y="937.6" font-size="9.9" fill="#000" stroke="#000" stroke-width=".22" textLength="53.2" lengthAdjust="spacingAndGlyphs">23 Jun 04:00</text>
<text x="1078.8" y="937.6" font-size="9.9" fill="#000" stroke="#000" stroke-width=".22" textLength="53.2" lengthAdjust="spacingAndGlyphs">24 Jun 12:00</text>
<text x="1142.8" y="937.6" font-size="9.9" fill="#000" stroke="#000" stroke-width=".22" textLength="53.2" lengthAdjust="spacingAndGlyphs">28 Jun 00:00</text>
<text x="1206.8" y="937.6" font-size="9.9" fill="#000" stroke="#000" stroke-width=".22" textLength="53.2" lengthAdjust="spacingAndGlyphs">29 Jun 08:00</text>
<text x="1270.8" y="937.6" font-size="9.9" fill="#000" stroke="#000" stroke-width=".22" textLength="53.2" lengthAdjust="spacingAndGlyphs">30 Jun 16:00</text>
<text x="7.9" y="35.8" font-size="9.9" fill="#000" stroke="#000" stroke-width=".22" textLength="42.1" lengthAdjust="spacingAndGlyphs">UKOil-,H4</text>
<text x="57.6" y="35.8" font-size="9.9" fill="#000" stroke="#000" stroke-width=".22" textLength="31" lengthAdjust="spacingAndGlyphs">109.197</text>
<text x="93.4" y="35.8" font-size="9.9" fill="#000" stroke="#000" stroke-width=".22" textLength="31" lengthAdjust="spacingAndGlyphs">109.312</text>
<text x="129.2" y="35.8" font-size="9.9" fill="#000" stroke="#000" stroke-width=".22" textLength="31" lengthAdjust="spacingAndGlyphs">108.984</text>
<text x="165" y="35.8" font-size="9.9" fill="#000" stroke="#000" stroke-width=".22" textLength="31" lengthAdjust="spacingAndGlyphs">109.142</text>
<path d="M0 30h3.4l-1.7 2.6z" fill="#000"/>
<text x="-5" y="641.7" font-size="9.9" fill="#000" stroke="#000" stroke-width=".22" textLength="66.5" lengthAdjust="spacingAndGlyphs">MACD(12,26,9)</text>
<text x="65.5" y="641.7" font-size="9.9" fill="#000" stroke="#000" stroke-width=".22" textLength="30" lengthAdjust="spacingAndGlyphs">-0.7490</text>
<text x="99.7" y="641.7" font-size="9.9" fill="#000" stroke="#000" stroke-width=".22" textLength="30" lengthAdjust="spacingAndGlyphs">-0.1472</text>
<text x="-4.6" y="799.9" font-size="9.9" fill="#000" stroke="#000" stroke-width=".22" textLength="32.1" lengthAdjust="spacingAndGlyphs">RSI(14)</text>
<text x="31.1" y="799.9" font-size="9.9" fill="#000" stroke="#000" stroke-width=".22" textLength="32.9" lengthAdjust="spacingAndGlyphs">35.2049</text>
<g id="tb">
<rect x="0" y="0" width="1667" height="20" fill="#f0f0f0"/>
<rect x="0" y="20" width="1667" height="1" fill="#b0b0b0" shape-rendering="crispEdges"/>
<rect x="0" y="21" width="1667" height="1" fill="#6a6a6a" shape-rendering="crispEdges"/>
<rect x="256" y="0" width="24" height="18" fill="#f9f9f9"/>
<rect x="408" y="0" width="24" height="18" fill="#f9f9f9"/>
<rect x="436" y="0" width="24" height="18" fill="#f9f9f9"/>
<rect x="596" y="0" width="24" height="18" fill="#f9f9f9"/>
<rect x="1042" y="0" width="24" height="18" fill="#f9f9f9"/>
<path d="M217.5 0V18M255.5 0V18M312.5 0V18M402.5 0V18M407.5 0V18M435.5 0V18M464.5 0V18M585.5 0V18M595.5 0V18M652.5 0V18M891.5 0V18M1041.5 0V18M1152.5 0V18" stroke="#a0a0a0" stroke-width="1" shape-rendering="crispEdges"/>
<path d="M0 18.5H51.5V0" fill="none" stroke="#a0a0a0" stroke-width="1" shape-rendering="crispEdges"/>
<path d="M221 0.5h3M221 2.5h3M221 4.5h3M221 6.5h3M221 8.5h3M221 10.5h3M221 12.5h3M221 14.5h3M221 16.5h3M589 0.5h3M589 2.5h3M589 4.5h3M589 6.5h3M589 8.5h3M589 10.5h3M589 12.5h3M589 14.5h3M589 16.5h3M895 0.5h3M895 2.5h3M895 4.5h3M895 6.5h3M895 8.5h3M895 10.5h3M895 12.5h3M895 14.5h3M895 16.5h3" stroke="#a0a0a0" stroke-width="1" shape-rendering="crispEdges"/>
<path d="M0 1h1.5v4H0z" fill="#c8c8c8"/>
<path d="M0 5h2v4.2h4v3.6H2V17H0z" fill="#16e01a" stroke="#0a9a10" stroke-width=".8"/>
<text x="8.4" y="10.3" font-size="12.2" fill="#000" stroke="#000" stroke-width=".27" textLength="36.6" lengthAdjust="spacingAndGlyphs" style="font-family:'Liberation Sans','Noto Sans CJK SC',sans-serif">新订单</text>
<text x="161.2" y="11" font-size="12.1" fill="#000" stroke="#000" stroke-width=".27" textLength="48.4" lengthAdjust="spacingAndGlyphs" style="font-family:'Liberation Sans','Noto Sans CJK SC',sans-serif">自动交易</text>
<defs><linearGradient id="gd" x1="0" y1="0" x2="0.6" y2="1"><stop offset="0" stop-color="#ffe55a"/><stop offset="1" stop-color="#e2a20e"/></linearGradient></defs>
<path d="M64.1 1C62.6 3.6 60.6 6.6 57.9 9.8L66 15.9L73.9 10.5V8.5Z" fill="#b87a12"/>
<path d="M64.3 2C63 4.4 61.2 6.9 59.2 9.4L65.9 13.3L72.9 8.6Z" fill="url(#gd)"/>
<path d="M66 14.6L73.2 9.6" stroke="#f4e2a0" stroke-width=".9"/>
<path d="M88.2 0.2L91 2.5V10H88.2Z" fill="#0a78e8"/><rect x="91" y="1" width="8" height="9" fill="#2aa0ff"/><rect x="92.6" y="4.3" width="5.2" height="2.8" fill="#d6ecff"/><path d="M88.2 0.2H96.5L99 1H91Z" fill="#5a78e0"/>
<path d="M88.6 15.4a2.6 2.6 0 0 1 -.4 -5.2a3.4 3.4 0 0 1 5.8 -1.3a3.2 3.2 0 0 1 5.2 1.3a2.6 2.6 0 0 1 .2 5.2z" fill="#e4e9f4" stroke="#4468a8" stroke-width="1"/>
<defs><linearGradient id="rg" x1="0" y1="0" x2="0" y2="1"><stop offset="0" stop-color="#dfeedd" stop-opacity=".7"/><stop offset="1" stop-color="#2fa032"/></linearGradient></defs>
<circle cx="122" cy="7.8" r="7.8" fill="#e9eef0"/>
<circle cx="122" cy="7.8" r="7.2" fill="none" stroke="#4a72d8" stroke-width="1" opacity=".55"/>
<circle cx="122" cy="7.8" r="4.6" fill="none" stroke="#4a72d8" stroke-width="1.1" opacity=".6"/>
<path d="M122 7.8L124.4 0.5A7.7 7.7 0 0 1 122.4 15.5Z" fill="url(#rg)" opacity=".8"/>
<path d="M118.6 1.4A7.2 7.2 0 0 0 117 13M120 3.6A4.6 4.6 0 0 0 119 11.2" fill="none" stroke="#2f5fd6" stroke-width="1.1" opacity=".55"/>
<circle cx="121.9" cy="7.6" r="1.9" fill="#2453d2"/>
<path d="M122.55 8V15.5" stroke="#17a01a" stroke-width="1.3"/>
<defs><linearGradient id="yg" x1="0" y1="0" x2="1" y2="0"><stop offset="0" stop-color="#f2c522"/><stop offset=".45" stop-color="#fff27a"/><stop offset="1" stop-color="#ecb418"/></linearGradient></defs>
<path d="M141.3 7.9L156.8 6.2L150 15.6L147.4 15.2Z" fill="url(#yg)" stroke="#cc9a14" stroke-width=".7"/>
<path d="M141.2 4.8C141.6 3.6 143.4 3.4 145.2 3.9C145.6 1.4 147 0 148.8 0C150.6 0 151.8 1.4 152.2 3.6C154 2.6 156.4 2.6 156.9 3.8C157.2 5.6 153.4 7.5 149 7.5C144.6 7.5 141 6.4 141.2 4.8Z" fill="#55b0e0" stroke="#1c84ae" stroke-width=".8"/>
<path d="M146.2 3.4C146.6 1.6 147.6 .8 148.8 .8C150 .8 150.8 1.8 151.2 3.4C149.6 4.4 147.8 4.4 146.2 3.4Z" fill="#8fd2f2"/>
<circle cx="153.5" cy="11.7" r="4.2" fill="#e02a0e"/><circle cx="153.5" cy="11.7" r="4.2" fill="none" stroke="#b81a04" stroke-width=".7"/><rect x="152.1" y="10.2" width="3" height="3" fill="#fff"/>
<path d="M235.5 3V16M233 13.5H246" stroke="#484848" stroke-width="1.3" fill="none"/>
<path d="M235.5 1.8l2 2.8h-4zM247 13.5l-2.8 -2v4z" fill="#484848"/>
<path d="M263.5 3V16M261 13.5H274" stroke="#484848" stroke-width="1.3" fill="none"/>
<path d="M263.5 1.8l2 2.8h-4zM275 13.5l-2.8 -2v4z" fill="#484848"/>
<path d="M291.5 3V16M289 13.5H302" stroke="#484848" stroke-width="1.3" fill="none"/>
<path d="M291.5 1.8l2 2.8h-4zM303 13.5l-2.8 -2v4z" fill="#484848"/>
<path d="M415.5 3V16M413 13.5H426" stroke="#484848" stroke-width="1.3" fill="none"/>
<path d="M415.5 1.8l2 2.8h-4zM427 13.5l-2.8 -2v4z" fill="#484848"/>
<path d="M443.5 3V16M441 13.5H454" stroke="#484848" stroke-width="1.3" fill="none"/>
<path d="M443.5 1.8l2 2.8h-4zM455 13.5l-2.8 -2v4z" fill="#484848"/>
<path d="M241.6 3.2V11.6M241.6 4.5h2.4M239.2 10.6h2.4" stroke="#0a8a0a" stroke-width="1.4" fill="none"/>
<path d="M269.5 0V11.6" stroke="#0a8a0a" stroke-width="1.3"/><rect x="267.3" y="2.3" width="4.4" height="7.2" fill="#2ee63c" stroke="#0a8a0a" stroke-width="1"/>
<path d="M290.2 10.8C293 8.5 294.5 5.2 296.4 5.4C298.2 5.6 299.6 8.6 301.8 9.3" stroke="#1a9a1a" stroke-width="1.3" fill="none"/>
<path d="M420.3 4L424 7.5L420.3 11Z" fill="#7ee07e" stroke="#0aa00a" stroke-width="1"/>
<path d="M449.5 2V11.8" stroke="#1070b0" stroke-width="1.5"/><path d="M454.8 7.5H451M450.4 7.5l2.6 -2v4z" stroke="#d04000" stroke-width="1" fill="#d04000"/>
<path d="M330.5 9.9L335.9 14.9" stroke="#9a7a10" stroke-width="3.6" stroke-linecap="butt"/>
<path d="M330.5 9.9L335.9 14.9" stroke="#ecd040" stroke-width="2.2" stroke-linecap="butt"/>
<circle cx="326.9" cy="5.7" r="5.3" fill="#d4efff" stroke="#2a7cc8" stroke-width="1.2"/>
<path d="M323.59999999999997 5.7h6.6M326.9 2.4v6.6" stroke="#3b8fcc" stroke-width="1.9"/>
<path d="M358.70000000000005 9.9L364.1 14.9" stroke="#9a7a10" stroke-width="3.6" stroke-linecap="butt"/>
<path d="M358.70000000000005 9.9L364.1 14.9" stroke="#ecd040" stroke-width="2.2" stroke-linecap="butt"/>
<circle cx="355.1" cy="5.7" r="5.3" fill="#d4efff" stroke="#2a7cc8" stroke-width="1.2"/>
<path d="M351.8 5.7h6.6" stroke="#3b8fcc" stroke-width="1.9"/>
<rect x="377.3" y="0" width="7.3" height="7.4" rx=".8" fill="#3ea012"/><rect x="378.45" y="2.9" width="5" height="3.2" fill="#fff"/>
<rect x="385.4" y="0" width="7.3" height="7.4" rx=".8" fill="#1a4ad0"/><rect x="386.54999999999995" y="2.9" width="5" height="3.2" fill="#fff"/>
<rect x="377.3" y="8.2" width="7.3" height="7.4" rx=".8" fill="#1a4ad0"/><rect x="378.45" y="11.1" width="5" height="3.2" fill="#fff"/>
<rect x="385.4" y="8.2" width="7.3" height="7.4" rx=".8" fill="#3ea012"/><rect x="386.54999999999995" y="11.1" width="5" height="3.2" fill="#fff"/>
<path d="M474.6 0.8H482.5L485 3.3V13.4H474.6Z" fill="#fff" stroke="#9a9a9a" stroke-width="1"/>
<path d="M477.8 3.5V10.5M477.8 5h1.5M476.6 9h1.2" stroke="#555" stroke-width=".8" fill="none"/>
<path d="M482.6 6.4h3.8v3.6h3.6v3.7h-3.6v4h-3.8v-4h-3.9v-3.7h3.9z" fill="#1fd62a" stroke="#0a9014" stroke-width=".9"/>
<path d="M495.8 7h5.6l-2.8 3.2z" fill="#000"/>
<path d="M534.9000000000001 7h5.6l-2.8 3.2z" fill="#000"/>
<path d="M573.8000000000001 7h5.6l-2.8 3.2z" fill="#000"/>
<path d="M879.5 7h5.6l-2.8 3.2z" fill="#000"/>
<circle cx="520" cy="7.9" r="6.6" fill="#f4f4f4" stroke="#1068d4" stroke-width="2.6"/>
<path d="M519.3 3.6V8.2H522.4" stroke="#222" stroke-width="1.2" fill="none"/>
<rect x="551.5" y="1.5" width="15" height="13" fill="#fff" stroke="#3a74c4" stroke-width="1.2"/><rect x="551.5" y="1.5" width="15" height="2.2" fill="#4a88d8"/><path d="M551.5 9h15" stroke="#3a74c4" stroke-width="1"/>
<path d="M553.5 7.2L555 7.2L557.5 5.5L559.5 6.4L562 6.2L564.5 5.2" stroke="#a02000" stroke-width="1.1" fill="none"/>
<path d="M553.8 12.3L556 11.4L558 12.4L561 10.2L563.8 12.4" stroke="#109020" stroke-width="1.1" fill="none"/>
<path d="M603.2 1V12.2L605.7 10L608 15.4L610.2 14.4L607.9 9.2L611.2 8.6Z" fill="#404040"/>
<path d="M635.5 1V16M628 8.5H643" stroke="#404040" stroke-width="1" shape-rendering="crispEdges"/>
<path d="M669.5 2V15" stroke="#404040" stroke-width="1.4"/>
<path d="M692 8.5H704" stroke="#404040" stroke-width="1.4"/>
<path d="M719.8 14.9L731.8 2.9" stroke="#404040" stroke-width="1.3"/>
<path d="M745.8 9.8L757.8 2.2M748 14.6L760.2 6.6M750.4 6.6v7M753.2 4.8v7M756 3v7M758.2 0v6" stroke="#404040" stroke-width="1" fill="none"/>
<text x="757" y="16.8" font-size="6.8" font-weight="bold" fill="#303030">E</text>
<path d="M775 1.5H788M775 4.5H788M775 8.5H788M775 12.5H784" stroke="#404040" stroke-width="1" stroke-dasharray="1 1" shape-rendering="crispEdges"/>
<text x="785" y="16.8" font-size="6.8" font-weight="bold" fill="#303030">F</text>
<text x="805.6" y="12.5" font-size="11.6" font-weight="bold" fill="#505050" textLength="8.4" lengthAdjust="spacingAndGlyphs">A</text>
<rect x="832.5" y="2.5" width="11" height="12" fill="none" stroke="#404040" stroke-width="1" stroke-dasharray="1 1" shape-rendering="crispEdges"/>
<text x="833.4" y="12.5" font-size="11" font-weight="bold" fill="#404040" textLength="8.6" lengthAdjust="spacingAndGlyphs">T</text>
<path d="M862.8 1.8l2.6 2.6l-2.6 2.6l-2.6 -2.6zM869.6 9.4l2.8 2.8l-2.8 2.8l-2.8 -2.8z" fill="#404040"/>
<path d="M861.4 8.2L863.6 10.6L868.2 5" stroke="#404040" stroke-width="1.3" fill="none"/>
<text x="906.6" y="11.8" font-size="9" fill="#404040" textLength="12.4" lengthAdjust="spacingAndGlyphs">M1</text>
<text x="934.9" y="11.8" font-size="9" fill="#404040" textLength="12.2" lengthAdjust="spacingAndGlyphs">M5</text>
<text x="960.4" y="11.8" font-size="9" fill="#404040" textLength="17.6" lengthAdjust="spacingAndGlyphs">M15</text>
<text x="988.5" y="11.8" font-size="9" fill="#404040" textLength="17.5" lengthAdjust="spacingAndGlyphs">M30</text>
<text x="1019.5" y="11.8" font-size="9" fill="#404040" textLength="11.7" lengthAdjust="spacingAndGlyphs">H1</text>
<text x="1046.5" y="11.8" font-size="9" fill="#404040" textLength="12.5" lengthAdjust="spacingAndGlyphs">H4</text>
<text x="1075.6" y="11.8" font-size="9" fill="#404040" textLength="11.4" lengthAdjust="spacingAndGlyphs">D1</text>
<text x="1103" y="11.8" font-size="9" fill="#404040" textLength="14" lengthAdjust="spacingAndGlyphs">W1</text>
<text x="1129.6" y="11.8" font-size="9" fill="#404040" textLength="14.6" lengthAdjust="spacingAndGlyphs">MN</text>
<path d="M1619.6 8.6L1614.8 13" stroke="#2a5cd0" stroke-width="2.2" stroke-linecap="round"/>
<circle cx="1622.4" cy="5.5" r="3.7" fill="#f4f6ff" stroke="#2a5cd0" stroke-width="1.2"/>
<path d="M1639.6 10.2a5.2 3.8 0 1 1 5.6 3.8l-2.6 2.6l.3 -2.8a5 3.6 0 0 1 -3.3 -3.6z" fill="#e6e6ea" stroke="#b8b8b8" stroke-width=".9"/>
<circle cx="1653.7" cy="6" r="8" fill="#e23a1e"/>
<text x="1652.6" y="10" font-size="12.4" fill="#fff" text-anchor="middle">1</text>
</g>
<rect x="1666" y="22" width="1" height="925" fill="#e8e8e8" shape-rendering="crispEdges"/>
<rect x="0" y="946" width="1667" height="1" fill="#e8e8e8" shape-rendering="crispEdges"/>
<!--TOOLBAR-->
</svg></body></html>
